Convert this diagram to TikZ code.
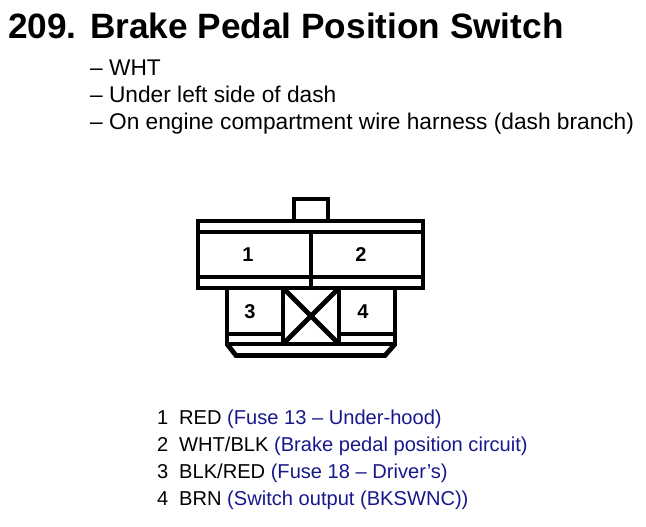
\documentclass[tikz,border=0pt]{standalone}
\usepackage{fontspec}
\setmainfont{Liberation Sans}
\usepackage{xcolor}
\definecolor{wireblue}{RGB}{24,24,140}
\usepackage{tikz}
\usetikzlibrary{positioning}
\tikzset{
  outline/.style={line width=4.8pt,line join=miter,line cap=butt},
  titletext/.style={anchor=base west,inner sep=0pt,font=\bfseries\fontsize{35.2}{38}\selectfont},
  notetext/.style={anchor=base west,inner sep=0pt,font=\fontsize{22.7}{26}\selectfont},
  pintext/.style={inner sep=0pt,font=\bfseries\fontsize{20}{22}\selectfont},
  wiretext/.style={anchor=base west,inner sep=0pt,font=\fontsize{20.1}{24}\selectfont},
}
\begin{document}
\begin{tikzpicture}[x=1pt,y=-1pt]
\useasboundingbox (0,0) rectangle (646,527);

\node (number) at (8,39) [titletext] {209.};
\node (title) at (90,39) [titletext] {Brake Pedal Position Switch};

\node (note1) at (90,75.5) [notetext] {– WHT};
\node (note2) at (90,102.5) [notetext] {– Under left side of dash};
\node (note3) at (90,129.5) [notetext] {– On engine compartment wire harness (dash branch)};

% connector body
\draw[outline] (294,221) -- (294,199) -- (328,199) -- (328,221);
\draw[outline] (198,221) rectangle (423,288);
\draw[outline] (198,232) -- (423,232);
\draw[outline] (198,277) -- (423,277);
\draw[outline] (311,232) -- (311,288);

\draw[outline] (227,288) -- (227,344);
\draw[outline] (395,288) -- (395,344);
\draw[outline] (283,288) -- (283,344);
\draw[outline] (339,288) -- (339,344);
\draw[outline] (227,334) -- (283,334);
\draw[outline] (339,334) -- (395,334);
\draw[outline] (283,288) -- (339,344);
\draw[outline] (339,288) -- (283,344);
\draw[outline] (225,344) -- (397,344);
\draw[outline] (227,344) -- (236,355.5) -- (385,355.5) -- (395,344);

\node (pin1) at (248,255) [pintext] {1};
\node (pin2) at (361,255) [pintext] {2};
\node (pin3) at (250,311.5) [pintext] {3};
\node (pin4) at (363,311.5) [pintext] {4};

\node (num1) at (157,424.5) [wiretext] {1};
\node (wire1) at (179,424.5) [wiretext] {RED \textcolor{wireblue}{(Fuse 13 – Under-hood)}};
\node (num2) at (157,451.5) [wiretext] {2};
\node (wire2) at (179,451.5) [wiretext] {WHT/BLK \textcolor{wireblue}{(Brake pedal position circuit)}};
\node (num3) at (157,478.5) [wiretext] {3};
\node (wire3) at (179,478.5) [wiretext] {BLK/RED \textcolor{wireblue}{(Fuse 18 – Driver’s)}};
\node (num4) at (157,505.5) [wiretext] {4};
\node (wire4) at (179,505.5) [wiretext] {BRN \textcolor{wireblue}{(Switch output (BKSWNC))}};
\end{tikzpicture}
\end{document}
